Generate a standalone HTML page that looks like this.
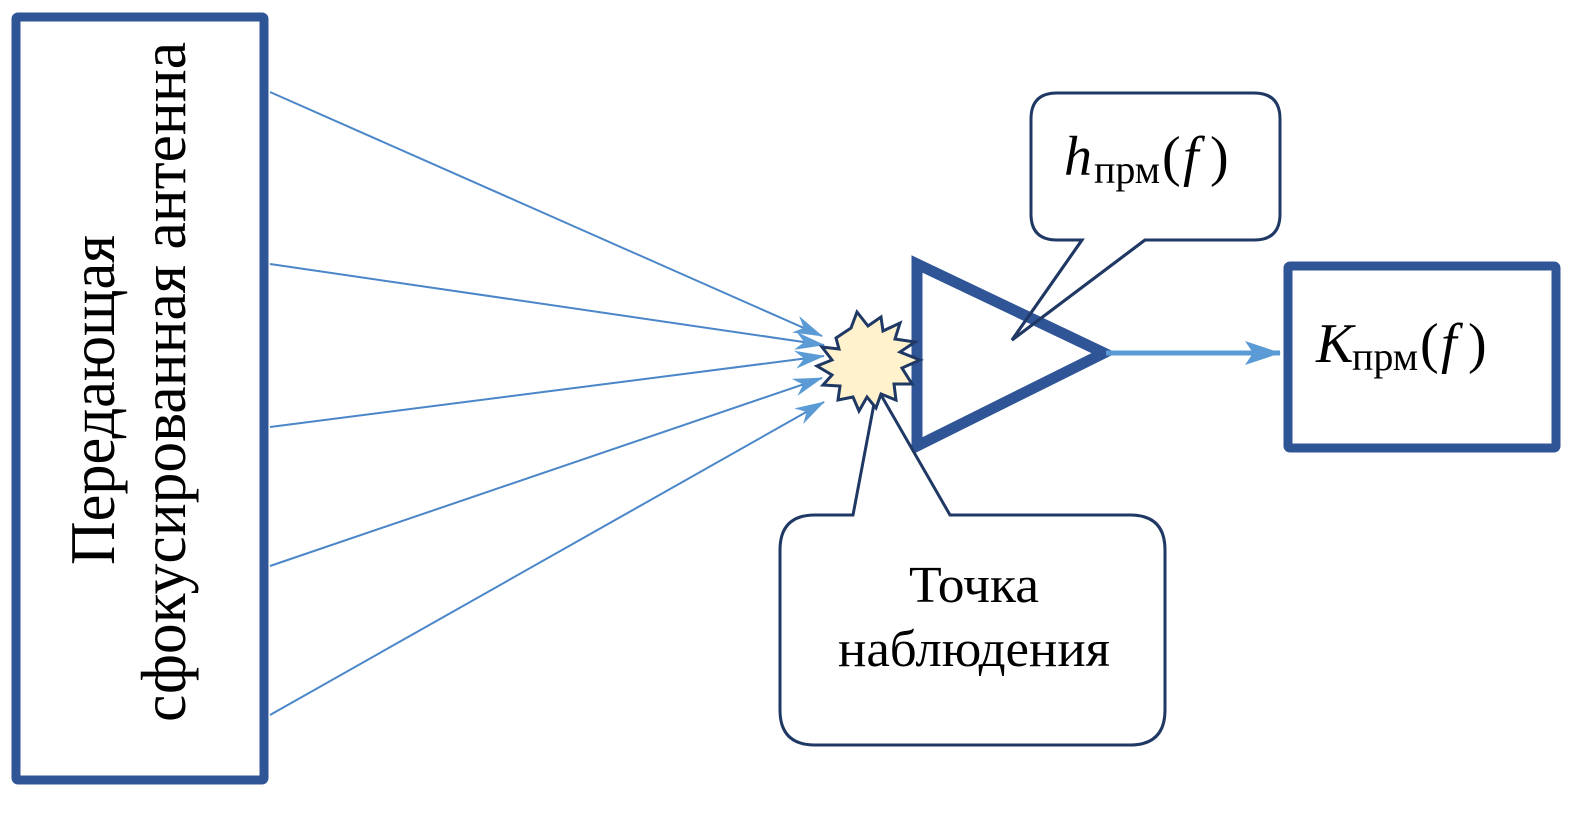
<!DOCTYPE html>
<html><head><meta charset="utf-8"><style>
html,body{margin:0;padding:0;background:#fff;width:1584px;height:816px;overflow:hidden}
svg{display:block}
text{font-family:"Liberation Serif",serif;fill:#000}
</style></head><body>
<svg width="1584" height="816" viewBox="0 0 1584 816" xmlns="http://www.w3.org/2000/svg">
<defs>
<marker id="a" viewBox="0 0 30 18" refX="29" refY="9" markerWidth="30" markerHeight="18" markerUnits="userSpaceOnUse" orient="auto">
<path d="M0,0 L30,9 L0,18 L9,9 Z" fill="#5b9bd5"/></marker>
<marker id="b" viewBox="0 0 36 24" refX="35" refY="12" markerWidth="36" markerHeight="24" markerUnits="userSpaceOnUse" orient="auto">
<path d="M0,0 L36,12 L0,24 L8,12 Z" fill="#5b9bd5"/></marker>
</defs>
<rect x="16" y="17" width="248" height="763" fill="#fff" stroke="#2f5597" stroke-width="9" rx="2"/>
<g transform="translate(114,400) rotate(-90)">
<text x="0" y="0" text-anchor="middle" font-size="64" textLength="330" lengthAdjust="spacingAndGlyphs">Передающая</text>
</g>
<g transform="translate(185,382) rotate(-90)">
<text x="0" y="0" text-anchor="middle" font-size="64" textLength="680" lengthAdjust="spacingAndGlyphs">сфокусированная антенна</text>
</g>
<g stroke="#4a86c8" stroke-width="2" fill="none">
<line x1="270" y1="92" x2="822" y2="336" marker-end="url(#a)"/>
<line x1="270" y1="264" x2="824" y2="345" marker-end="url(#a)"/>
<line x1="270" y1="427" x2="824" y2="356" marker-end="url(#a)"/>
<line x1="270" y1="566" x2="822" y2="378" marker-end="url(#a)"/>
<line x1="270" y1="715" x2="824" y2="402" marker-end="url(#a)"/>
</g>
<path d="M1057,93 H1254 Q1280,93 1280,119 V214 Q1280,240 1254,240 H1145 L1012,340 L1082,240 H1057 Q1031,240 1031,214 V119 Q1031,93 1057,93 Z" fill="#fff" stroke="#1f3864" stroke-width="3"/>
<text x="1064" y="175" font-size="56" font-style="italic">h</text>
<text x="1094" y="183" font-size="40">прм</text>
<text x="1162" y="175" font-size="56">(</text>
<text x="1183" y="175" font-size="56" font-style="italic">f</text>
<text x="1210" y="175" font-size="56">)</text>
<path d="M917,264 L917,446 L1104,353 Z" fill="none" stroke="#2f5597" stroke-width="11" stroke-linejoin="miter"/>
<path d="M1145,240 L1012,340 L1082,240" fill="none" stroke="#1f3864" stroke-width="3"/>
<line x1="1106" y1="353" x2="1280" y2="353" stroke="#5b9bd5" stroke-width="5" marker-end="url(#b)"/>
<rect x="1288" y="266" width="268" height="182" fill="#fff" stroke="#2f5597" stroke-width="9" rx="2"/>
<text x="1316" y="362" font-size="56" font-style="italic">K</text>
<text x="1352" y="370" font-size="40">прм</text>
<text x="1420" y="362" font-size="56">(</text>
<text x="1441" y="362" font-size="56" font-style="italic">f</text>
<text x="1468" y="362" font-size="56">)</text>
<path d="M815,515 H853 L877,388 L950,515 H1130 Q1165,515 1165,550 V710 Q1165,745 1130,745 H815 Q780,745 780,710 V550 Q780,515 815,515 Z" fill="#fff" stroke="#1f3864" stroke-width="3"/>
<text x="974" y="602" text-anchor="middle" font-size="52" textLength="130" lengthAdjust="spacingAndGlyphs">Точка</text>
<text x="974" y="666" text-anchor="middle" font-size="52" textLength="272" lengthAdjust="spacingAndGlyphs">наблюдения</text>
<path d="M836,338 L851,328 L857,312 L868,326 L881,317 L883,331 L900,323 L895,339 L915,342 L900,352 L920,360 L902,368 L912,384 L894,384 L896,400 L881,394 L876,408 L867,397 L859,411 L853,397 L838,400 L840,386 L823,385 L832,375 L817,366 L832,360 L822,347 L839,349 Z" fill="#fff2cc" stroke="#1f3864" stroke-width="3" stroke-linejoin="miter"/>
</svg>
</body></html>
